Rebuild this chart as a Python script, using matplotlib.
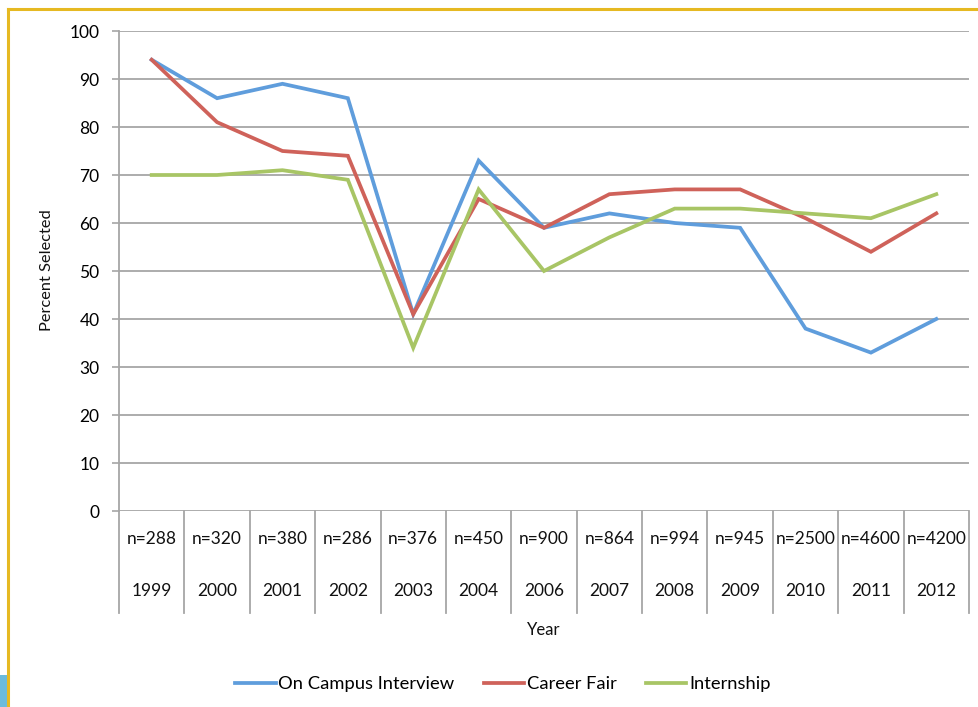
import matplotlib
matplotlib.use("Agg")
import matplotlib.pyplot as plt
from matplotlib.lines import Line2D
from matplotlib.patches import Rectangle
import matplotlib.transforms as mtransforms

plt.rcParams['font.family'] = ['Lato', 'DejaVu Sans']

years = ["1999", "2000", "2001", "2002", "2003", "2004", "2006", "2007",
         "2008", "2009", "2010", "2011", "2012"]
n_labels = ["n=288", "n=320", "n=380", "n=286", "n=376", "n=450", "n=900",
            "n=864", "n=994", "n=945", "n=2500", "n=4600", "n=4200"]
on_campus = [94, 86, 89, 86, 41, 73, 59, 62, 60, 59, 38, 33, 40]
career_fair = [94, 81, 75, 74, 41, 65, 59, 66, 67, 67, 61, 54, 62]
internship = [70, 70, 71, 69, 34, 67, 50, 57, 63, 63, 62, 61, 66]
y_ticks = [0, 10, 20, 30, 40, 50, 60, 70, 80, 90, 100]

W, H = 979, 707
fig = plt.figure(figsize=(W / 100, H / 100), dpi=100)
ax = fig.add_axes([119 / W, 1 - 511 / H, 850 / W, 480 / H])

x = list(range(len(years)))
c_blue, c_red, c_green = "#5F9DDC", "#CF625A", "#A8C565"
ax.plot(x, on_campus, color=c_blue, lw=2.7, label="On Campus Interview", solid_joinstyle="miter", zorder=3)
ax.plot(x, career_fair, color=c_red, lw=2.7, label="Career Fair", solid_joinstyle="miter", zorder=3)
ax.plot(x, internship, color=c_green, lw=2.7, label="Internship", solid_joinstyle="miter", zorder=3)

ax.set_xlim(-0.5, len(years) - 0.5)
ax.set_ylim(0, 100)
ax.set_yticks(y_ticks)
ax.set_yticklabels([str(v) for v in y_ticks], fontsize=12.5)
ax.tick_params(axis="y", length=5, width=1.2, color="#A6A6A6", pad=9)
ax.set_xticks([])
ax.grid(axis="y", color="#A6A6A6", lw=1.3)
ax.set_axisbelow(True)
for s in ["top", "right", "bottom"]:
    ax.spines[s].set_visible(False)
ax.spines["left"].set_color("#A6A6A6")
ax.spines["left"].set_linewidth(1.3)

# category boundary lines below axis
trans = mtransforms.blended_transform_factory(ax.transData, ax.transAxes)
for b in range(len(years) + 1):
    ax.add_line(Line2D([b - 0.5, b - 0.5], [0, -0.2125], transform=trans,
                       color="#A6A6A6", lw=1.3, clip_on=False))
for i in x:
    ax.text(i, -0.058, n_labels[i], transform=trans, ha="center", va="center",
            fontsize=12.5, color="#111111")
    ax.text(i, -0.1667, years[i], transform=trans, ha="center", va="center",
            fontsize=12.5, color="#111111")

ax.text(0.5, -0.248, "Year", transform=ax.transAxes, ha="center", va="center",
        fontsize=12, color="#111111")
fig.text(47 / W, 1 - 270 / H, "Percent Selected", rotation=90, ha="center",
         va="center", fontsize=11.8, color="#111111")

leg = fig.legend(loc="center", bbox_to_anchor=(503 / W, 1 - 684 / H), ncol=3,
                 frameon=False, fontsize=13.2, handlelength=2.2,
                 handletextpad=0.15, columnspacing=1.6)

# slide frame decorations
fig.add_artist(Line2D([8.5 / W, 1.0], [1 - 9 / H, 1 - 9 / H], transform=fig.transFigure,
                      color="#E6B922", lw=2.2))
fig.add_artist(Line2D([8.5 / W, 8.5 / W], [0, 1 - 9 / H], transform=fig.transFigure,
                      color="#E6B922", lw=2.2))
fig.add_artist(Rectangle((0, 0), 7 / W, 32 / H, transform=fig.transFigure,
                         color="#6BBBDD", lw=0))

fig.savefig("out.png", dpi=100)
